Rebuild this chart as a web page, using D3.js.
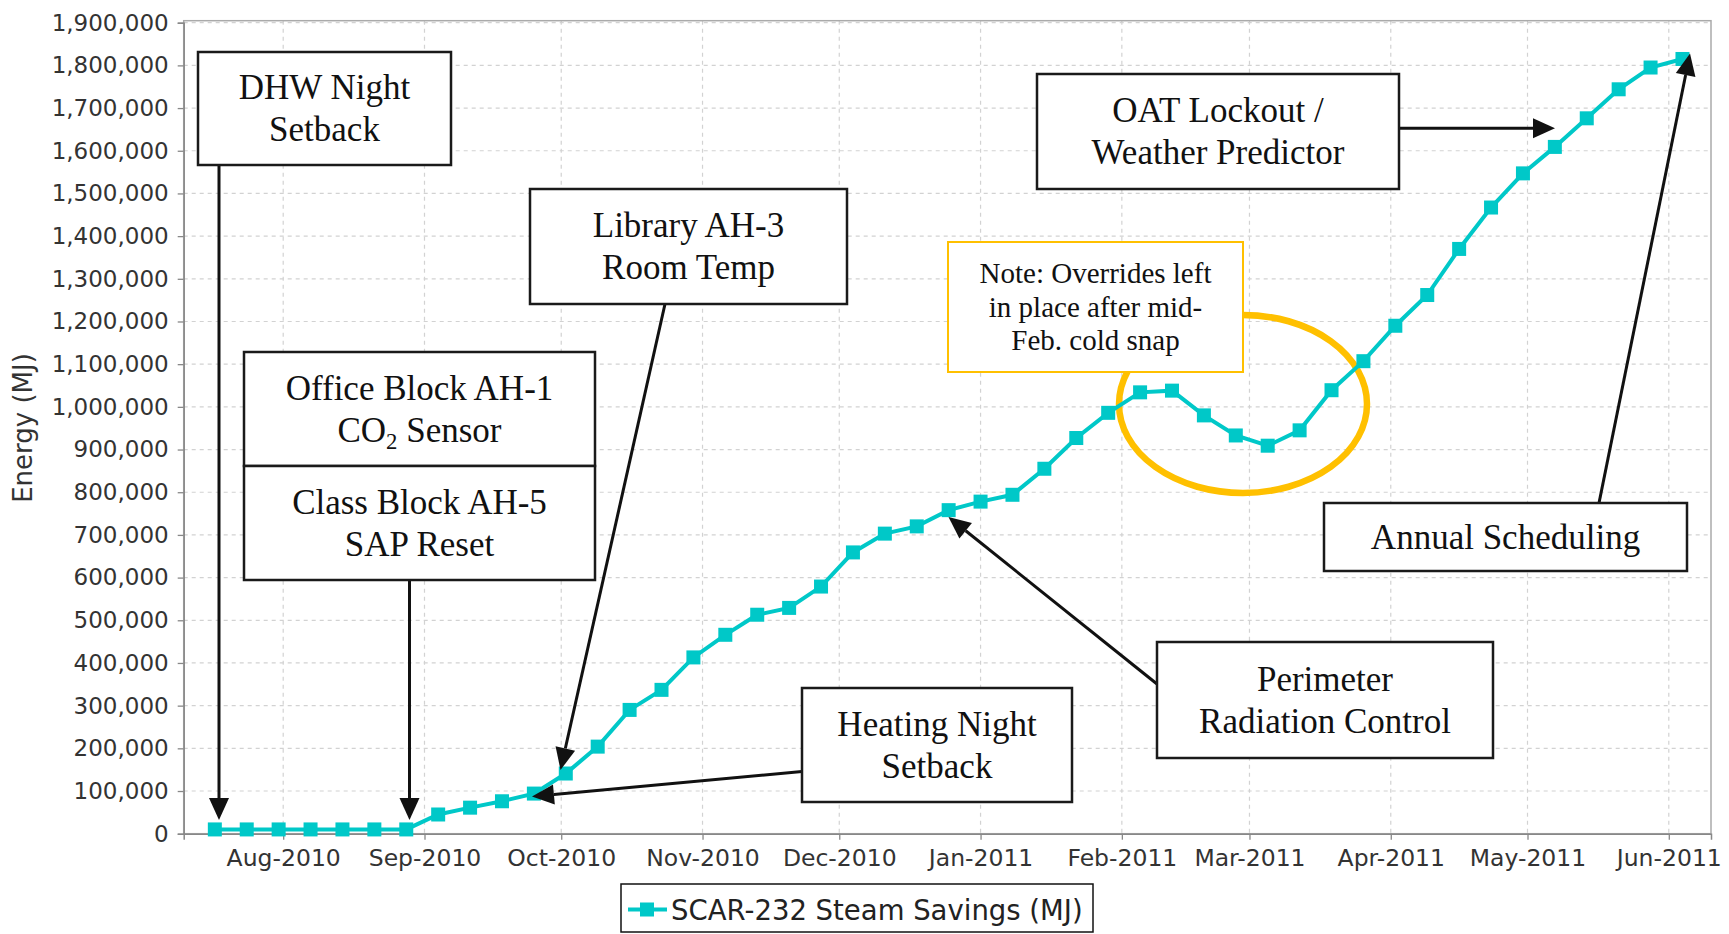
<!DOCTYPE html>
<html>
<head>
<meta charset="utf-8">
<style>
    body { margin: 0; background: #fff; }
    svg { display: block; }
    .tick text { font-family: "DejaVu Sans", sans-serif; fill: #333; }
    .callout text { font-family: "Liberation Serif", "Times New Roman", serif; fill: #111; }
</style>
</head>
<body>
<svg width="1729" height="934"></svg>
<script src="https://d3js.org/d3.v7.min.js"></script>
<script>
    // weekly readings
    var weekDates = [
        '2010-07-17', '2010-07-24', '2010-07-31', '2010-08-07', '2010-08-14', '2010-08-21', '2010-08-28',
        '2010-09-04', '2010-09-11', '2010-09-18', '2010-09-25', '2010-10-02', '2010-10-09', '2010-10-16',
        '2010-10-23', '2010-10-30', '2010-11-06', '2010-11-13', '2010-11-20', '2010-11-27', '2010-12-04',
        '2010-12-11', '2010-12-18', '2010-12-25', '2011-01-01', '2011-01-08', '2011-01-15', '2011-01-22',
        '2011-01-29', '2011-02-05', '2011-02-12', '2011-02-19', '2011-02-26', '2011-03-05', '2011-03-12',
        '2011-03-19', '2011-03-26', '2011-04-02', '2011-04-09', '2011-04-16', '2011-04-23', '2011-04-30',
        '2011-05-07', '2011-05-14', '2011-05-21', '2011-05-28', '2011-06-04'
    ];
    var steamSavings = [
        10000, 10000, 10000, 10000, 10000, 10000, 10000,
        45000, 61000, 76000, 94000, 141000, 204000, 290000,
        337000, 413000, 466000, 513000, 529000, 579000, 659000,
        703000, 720000, 758000, 778000, 794000, 855000, 927000,
        986000, 1034000, 1038000, 980000, 933000, 909000, 945000,
        1039000, 1107000, 1190000, 1262000, 1370000, 1467000, 1547000,
        1609000, 1676000, 1744000, 1795000, 1815000
    ];
    var yTicks = [0, 100000, 200000, 300000, 400000, 500000, 600000, 700000, 800000, 900000, 1000000,
        1100000, 1200000, 1300000, 1400000, 1500000, 1600000, 1700000, 1800000, 1900000];
    var monthTicks = ['2010-08-01', '2010-09-01', '2010-10-01', '2010-11-01', '2010-12-01', '2011-01-01',
        '2011-02-01', '2011-03-01', '2011-04-01', '2011-05-01', '2011-06-01'];
    var seriesName = 'SCAR-232 Steam Savings (MJ)';
    var yTitle = 'Energy (MJ)';

    var parse = d3.timeParse('%Y-%m-%d');
    var vData = weekDates.map(function (d, i) { return {date: parse(d), value: steamSavings[i]}; });
    var vMonths = monthTicks.map(parse);

    var vLeft = 183.7, vRight = 1711, vTop = 20.7, vBottom = 833.7;
    var lineColor = '#00c8c8';
    var gold = '#ffc000';

    var svg = d3.select('svg');

    // x scale: calibrated on Aug-2010 / Jun-2011 ticks, then widened to the plot edges
    var x = d3.scaleTime().domain([vMonths[0], vMonths[vMonths.length - 1]]).range([283.2, 1668.8]);
    x.domain([x.invert(vLeft), x.invert(vRight)]).range([vLeft, vRight]);
    var y = d3.scaleLinear().domain([0, 1900000]).range([vBottom, 22.7]);

    // grid
    var grid = svg.append('g').attr('stroke', '#d2d2d2').attr('stroke-width', 1.2).attr('stroke-dasharray', '4,4');
    grid.selectAll('.hg').data(yTicks.slice(1)).enter().append('line')
        .attr('x1', vLeft).attr('x2', vRight)
        .attr('y1', function (d) { return y(d); }).attr('y2', function (d) { return y(d); });
    grid.selectAll('.vg').data(vMonths).enter().append('line')
        .attr('y1', vTop).attr('y2', vBottom)
        .attr('x1', function (d) { return x(d); }).attr('x2', function (d) { return x(d); });

    // plot outline
    svg.append('rect').attr('x', vLeft).attr('y', vTop).attr('width', vRight - vLeft).attr('height', vBottom - vTop)
        .attr('fill', 'none').attr('stroke', '#aaa').attr('stroke-width', 1.5);

    // axes
    var yAxis = svg.append('g').attr('transform', 'translate(' + vLeft + ',0)')
        .call(d3.axisLeft(y).tickValues(yTicks).tickFormat(d3.format(',')).tickSize(6).tickPadding(9));
    var xAxis = svg.append('g').attr('transform', 'translate(0,' + vBottom + ')')
        .call(d3.axisBottom(x).tickValues(vMonths).tickFormat(d3.timeFormat('%b-%Y')).tickSize(6).tickPadding(10));
    [yAxis, xAxis].forEach(function (a) {
        a.select('.domain').attr('stroke', '#888').attr('stroke-width', 1.5);
        a.selectAll('.tick line').attr('stroke', '#888').attr('stroke-width', 1.3);
    });
    yAxis.selectAll('.tick text').attr('font-size', 23);
    xAxis.selectAll('.tick text').attr('font-size', 23.5);

    svg.append('text').attr('transform', 'translate(32,428) rotate(-90)')
        .attr('text-anchor', 'middle').attr('font-family', '"DejaVu Sans", sans-serif')
        .attr('font-size', 26).attr('fill', '#333').text(yTitle);

    // ring round the mid-Feb dip
    svg.append('ellipse').attr('cx', 1243).attr('cy', 404).attr('rx', 124).attr('ry', 89)
        .attr('fill', 'none').attr('stroke', gold).attr('stroke-width', 6.5);

    // series
    var vLine = d3.line().x(function (d) { return x(d.date); }).y(function (d) { return y(d.value); });
    svg.append('path').datum(vData).attr('d', vLine)
        .attr('fill', 'none').attr('stroke', lineColor).attr('stroke-width', 4);
    svg.selectAll('.pt').data(vData).enter().append('rect')
        .attr('x', function (d) { return x(d.date) - 7; })
        .attr('y', function (d) { return y(d.value) - 7; })
        .attr('width', 14).attr('height', 14).attr('fill', lineColor);

    // arrows
    var arrows = [
        [[219, 165], [219, 820]],
        [[409.5, 580], [409.5, 820]],
        [[665, 304], [560.5, 770]],
        [[802, 771.5], [532, 796.5]],
        [[1157, 684], [948.5, 517]],
        [[1599, 503], [1690, 53.5]],
        [[1399, 128.3], [1555, 128.3]]
    ];
    var ag = svg.append('g');
    arrows.forEach(function (a) {
        var dx = a[1][0] - a[0][0], dy = a[1][1] - a[0][1];
        var len = Math.sqrt(dx * dx + dy * dy), ux = dx / len, uy = dy / len;
        var hl = 22, hw = 10;
        var bx = a[1][0] - ux * hl, by = a[1][1] - uy * hl;
        ag.append('line').attr('x1', a[0][0]).attr('y1', a[0][1]).attr('x2', bx).attr('y2', by)
            .attr('stroke', '#111').attr('stroke-width', 3);
        ag.append('polygon').attr('fill', '#111').attr('points', [
            [a[1][0], a[1][1]], [bx - uy * hw, by + ux * hw], [bx + uy * hw, by - ux * hw]
        ].map(function (p) { return p.join(','); }).join(' '));
    });

    // callout boxes
    var callouts = [
        {x: 198, y: 52, w: 253, h: 113, lines: ['DHW Night', 'Setback']},
        {x: 244, y: 352, w: 351, h: 114, lines: ['Office Block AH-1', 'CO|2| Sensor']},
        {x: 244, y: 466, w: 351, h: 114, lines: ['Class Block AH-5', 'SAP Reset']},
        {x: 530, y: 189, w: 317, h: 115, lines: ['Library AH-3', 'Room Temp']},
        {x: 802, y: 688, w: 270, h: 114, lines: ['Heating Night', 'Setback']},
        {x: 1157, y: 642, w: 336, h: 116, lines: ['Perimeter', 'Radiation Control']},
        {x: 1324, y: 503, w: 363, h: 68, lines: ['Annual Scheduling']},
        {x: 1037, y: 74, w: 362, h: 115, lines: ['OAT Lockout /', 'Weather Predictor']},
        {x: 948, y: 242, w: 295, h: 130, lines: ['Note: Overrides left', 'in place after mid-', 'Feb. cold snap'],
            size: 29, gap: 33.5, stroke: gold, sw: 2}
    ];
    callouts.forEach(function (c) {
        var size = c.size || 35, gap = c.gap || 42;
        var g = svg.append('g').attr('class', 'callout');
        g.append('rect').attr('x', c.x).attr('y', c.y).attr('width', c.w).attr('height', c.h)
            .attr('fill', '#fff').attr('stroke', c.stroke || '#1a1a1a').attr('stroke-width', c.sw || 2.5);
        var capH = size * 0.66;
        var first = c.y + c.h / 2 - (gap * (c.lines.length - 1)) / 2 + capH / 2;
        c.lines.forEach(function (ln, i) {
            var t = g.append('text').attr('x', c.x + c.w / 2).attr('y', first + i * gap)
                .attr('text-anchor', 'middle').attr('font-size', size);
            var parts = ln.split('|');
            if (parts.length === 1) { t.text(ln); return; }
            t.append('tspan').text(parts[0]);
            t.append('tspan').attr('font-size', size * 0.65).attr('dy', 7).text(parts[1]);
            t.append('tspan').attr('dy', -7).text(parts[2]);
        });
    });

    // legend
    var lg = svg.append('g');
    lg.append('rect').attr('x', 621).attr('y', 884).attr('width', 472).attr('height', 48)
        .attr('fill', '#fff').attr('stroke', '#111').attr('stroke-width', 1.5);
    lg.append('line').attr('x1', 628).attr('x2', 667).attr('y1', 909.5).attr('y2', 909.5)
        .attr('stroke', lineColor).attr('stroke-width', 4);
    lg.append('rect').attr('x', 640).attr('y', 902.5).attr('width', 14).attr('height', 14).attr('fill', lineColor);
    lg.append('text').attr('x', 671).attr('y', 919.5).attr('font-family', '"DejaVu Sans", sans-serif')
        .attr('font-size', 27.5).attr('fill', '#222').text(seriesName);
</script>
</body>
</html>
